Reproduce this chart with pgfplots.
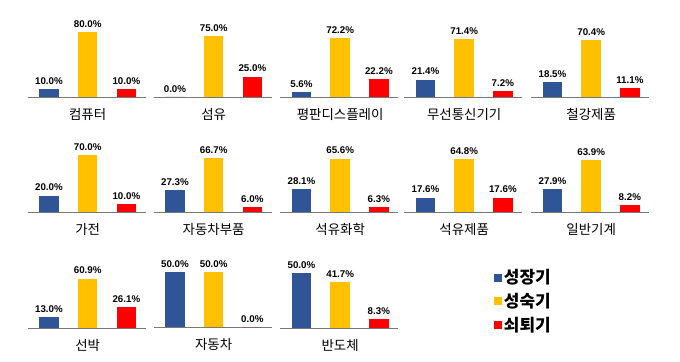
\documentclass[border=0pt]{standalone}
\usepackage{pgfplots}
\pgfplotsset{compat=1.18}
\usepackage{fontspec}
\setmainfont{Liberation Sans}
\newfontfamily\kr{Noto Sans CJK KR}
\definecolor{cblue}{RGB}{47,85,151}
\definecolor{cyellow}{RGB}{255,192,0}
\definecolor{cred}{RGB}{255,0,0}
\definecolor{cline}{RGB}{120,120,120}
\tikzset{cat/.style={font=\kr\fontsize{13.5}{15}\selectfont, anchor=center, yshift=-17bp}}
\pgfplotsset{
  panel/.style={
    scale only axis, width=118bp, height=73bp,
    xmin=-0.55, xmax=2.5, ymin=0, ymax=90,
    ybar, bar width=19.5bp,
    axis x line*=bottom, axis y line=none,
    x axis line style={draw=cline, line width=0.9bp, -},
    xtick=\empty, ytick=\empty,
    clip=false, anchor=south west,
    /pgf/number format/assume math mode=true,
    nodes near coords={\pgfmathprintnumber[fixed,fixed zerofill,precision=1,assume math mode=true]{\pgfplotspointmeta}\%},
    every node near coord/.append style={font=\bfseries\fontsize{9.8}{11}\selectfont, text=black, inner sep=0pt, yshift=4.5bp},
  },
  b/.style={fill=#1, draw=none, bar shift=0pt},
}
\begin{document}
\begin{tikzpicture}
\useasboundingbox (0bp,0bp) rectangle (680bp,362bp);
% Row 1
\begin{axis}[panel, at={(27.7bp,265bp)}]
\addplot[b=cblue] coordinates {(0,10.0)};
\addplot[b=cyellow] coordinates {(1,80.0)};
\addplot[b=cred] coordinates {(2,10.0)};
\node[cat] at (axis cs:1,0) {컴퓨터};
\end{axis}
\begin{axis}[panel, at={(153.7bp,265bp)}]
\addplot[b=cblue] coordinates {(0,0.0)};
\addplot[b=cyellow] coordinates {(1,75.0)};
\addplot[b=cred] coordinates {(2,25.0)};
\node[cat] at (axis cs:1,0) {섬유};
\end{axis}
\begin{axis}[panel, at={(280.2bp,265bp)}]
\addplot[b=cblue] coordinates {(0,5.6)};
\addplot[b=cyellow] coordinates {(1,72.2)};
\addplot[b=cred] coordinates {(2,22.2)};
\node[cat] at (axis cs:1,0) {평판디스플레이};
\end{axis}
\begin{axis}[panel, at={(404.2bp,265bp)}]
\addplot[b=cblue] coordinates {(0,21.4)};
\addplot[b=cyellow] coordinates {(1,71.4)};
\addplot[b=cred] coordinates {(2,7.2)};
\node[cat] at (axis cs:1,0) {무선통신기기};
\end{axis}
\begin{axis}[panel, at={(531.2bp,265bp)}]
\addplot[b=cblue] coordinates {(0,18.5)};
\addplot[b=cyellow] coordinates {(1,70.4)};
\addplot[b=cred] coordinates {(2,11.1)};
\node[cat] at (axis cs:1,0) {철강제품};
\end{axis}
% Row 2
\begin{axis}[panel, at={(27.7bp,150bp)}]
\addplot[b=cblue] coordinates {(0,20.0)};
\addplot[b=cyellow] coordinates {(1,70.0)};
\addplot[b=cred] coordinates {(2,10.0)};
\node[cat] at (axis cs:1,0) {가전};
\end{axis}
\begin{axis}[panel, at={(153.7bp,150bp)}]
\addplot[b=cblue] coordinates {(0,27.3)};
\addplot[b=cyellow] coordinates {(1,66.7)};
\addplot[b=cred] coordinates {(2,6.0)};
\node[cat] at (axis cs:1,0) {자동차부품};
\end{axis}
\begin{axis}[panel, at={(280.2bp,150bp)}]
\addplot[b=cblue] coordinates {(0,28.1)};
\addplot[b=cyellow] coordinates {(1,65.6)};
\addplot[b=cred] coordinates {(2,6.3)};
\node[cat] at (axis cs:1,0) {석유화학};
\end{axis}
\begin{axis}[panel, at={(404.2bp,150bp)}]
\addplot[b=cblue] coordinates {(0,17.6)};
\addplot[b=cyellow] coordinates {(1,64.8)};
\addplot[b=cred] coordinates {(2,17.6)};
\node[cat] at (axis cs:1,0) {석유제품};
\end{axis}
\begin{axis}[panel, at={(531.2bp,150bp)}]
\addplot[b=cblue] coordinates {(0,27.9)};
\addplot[b=cyellow] coordinates {(1,63.9)};
\addplot[b=cred] coordinates {(2,8.2)};
\node[cat] at (axis cs:1,0) {일반기계};
\end{axis}
% Row 3
\begin{axis}[panel, at={(27.7bp,34bp)}]
\addplot[b=cblue] coordinates {(0,13.0)};
\addplot[b=cyellow] coordinates {(1,60.9)};
\addplot[b=cred] coordinates {(2,26.1)};
\node[cat] at (axis cs:1,0) {선박};
\end{axis}
\begin{axis}[panel, at={(153.7bp,35bp)}, ymax=66.4]
\addplot[b=cblue] coordinates {(0,50.0)};
\addplot[b=cyellow] coordinates {(1,50.0)};
\addplot[b=cred] coordinates {(2,0.0)};
\node[cat] at (axis cs:1,0) {자동차};
\end{axis}
\begin{axis}[panel, at={(280.2bp,34bp)}, ymax=66.4,
  legend style={at={(axis description cs:1.81,0.83)}, anchor=north west,
    draw=none, fill=none, font=\kr\bfseries\fontsize{17}{19}\selectfont,
    row sep=3.8bp, inner sep=0pt,
    nodes={inner sep=2bp}},
  legend cell align=left,
  legend image code/.code={\fill[#1] (0bp,-4bp) rectangle (8bp,4bp);}]
\addplot[b=cblue] coordinates {(0,50.0)};
\addplot[b=cyellow] coordinates {(1,41.7)};
\addplot[b=cred] coordinates {(2,8.3)};
\node[cat] at (axis cs:1,0) {반도체};
\legend{성장기,성숙기,쇠퇴기}
\end{axis}
\end{tikzpicture}
\end{document}
